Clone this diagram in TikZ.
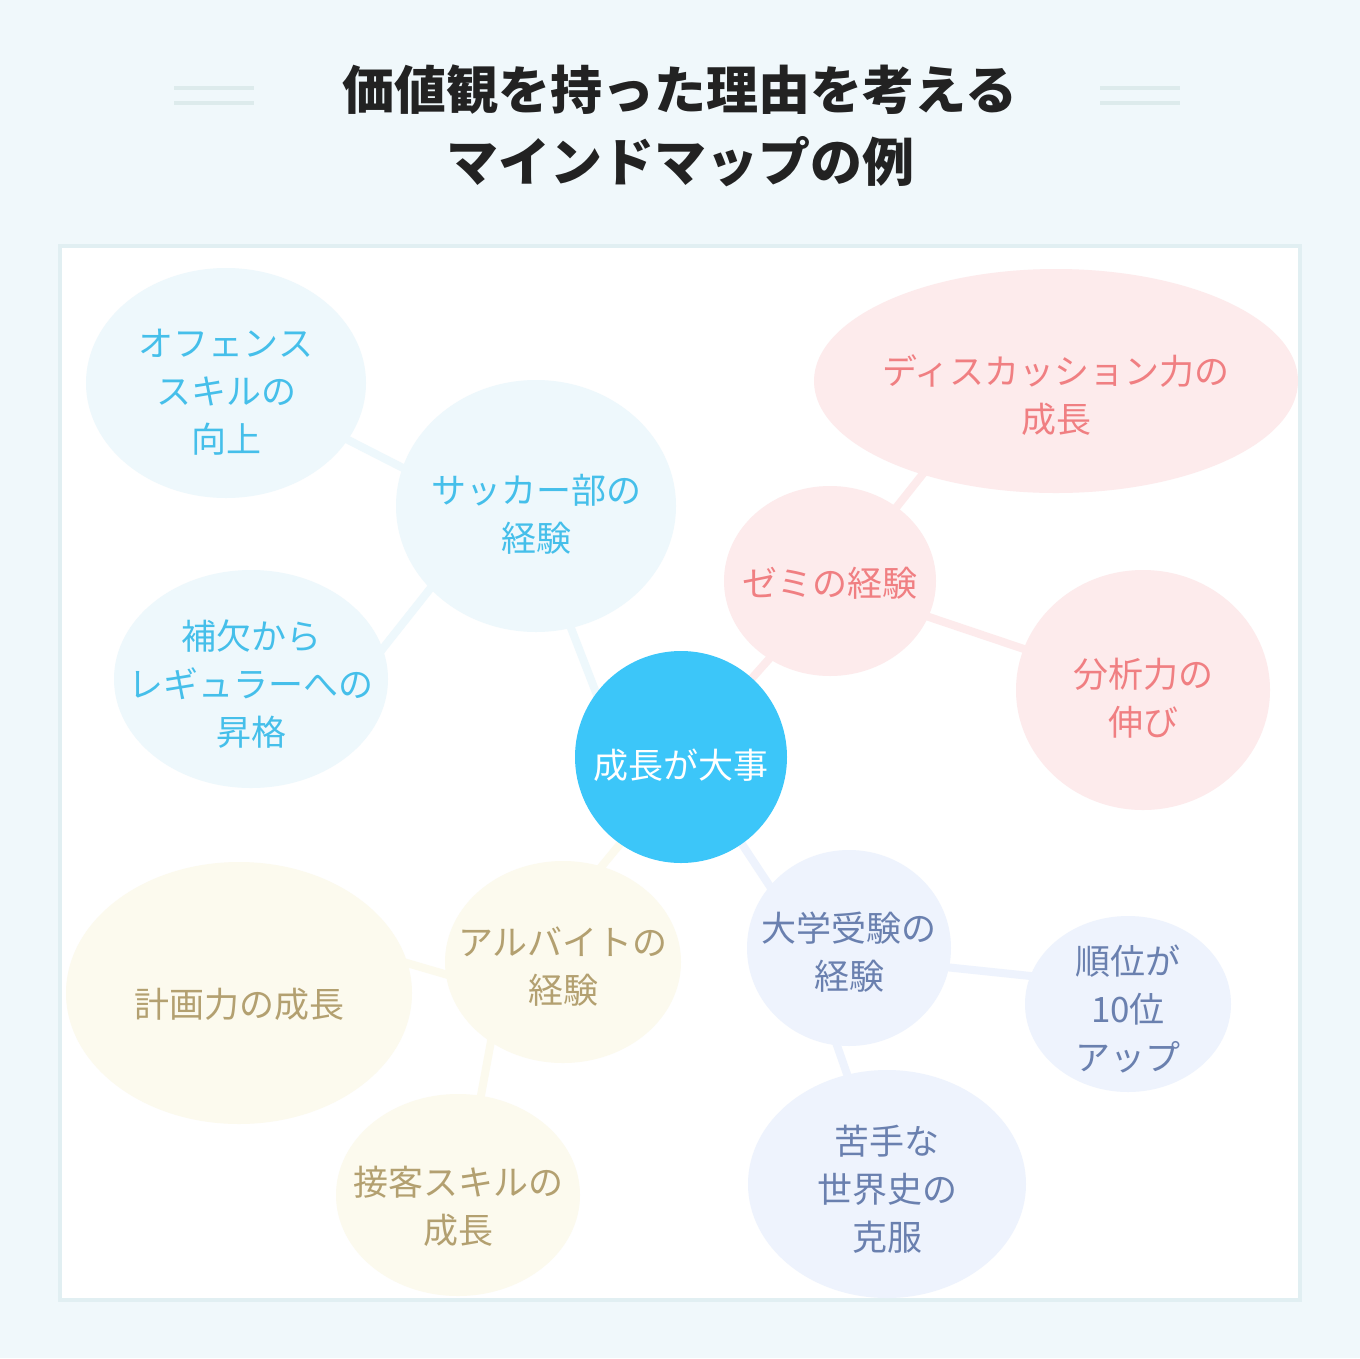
\documentclass[tikz,border=0pt]{standalone}
\usepackage{fontspec}
\setmainfont{Noto Sans CJK JP}
\usetikzlibrary{shapes.geometric}
\definecolor{pagebg}{HTML}{F0F8FB}
\definecolor{framecol}{HTML}{E1EFF2}
\definecolor{decocol}{HTML}{DDEBEC}
\definecolor{titlecol}{HTML}{222222}
\definecolor{hubcol}{HTML}{3CC6F9}
\definecolor{bluefill}{HTML}{EEF8FC}
\definecolor{bluetext}{HTML}{45BFEA}
\definecolor{pinkfill}{HTML}{FDEBEC}
\definecolor{pinktext}{HTML}{F07F82}
\definecolor{navyfill}{HTML}{EEF3FD}
\definecolor{navytext}{HTML}{6A80AF}
\definecolor{sandfill}{HTML}{FCFAEE}
\definecolor{sandtext}{HTML}{B3A070}
\pgfdeclarelayer{back}
\pgfdeclarelayer{links}
\pgfsetlayers{back,links,main}
\begin{document}
\begin{tikzpicture}[x=1pt,y=-1pt,
    bubble/.style={ellipse, inner sep=-200pt, align=center, font=\fontsize{35}{48}\selectfont},
    oneline/.style={text height=43pt, text depth=0pt},
    twolines/.style={text height=91pt, text depth=0pt},
    threelines/.style={text height=139pt, text depth=0pt},
    link/.style={line width=8pt, shorten <=-12pt, shorten >=-12pt},
    blue/.style={bubble, fill=bluefill, text=bluetext},
    pink/.style={bubble, fill=pinkfill, text=pinktext},
    navy/.style={bubble, fill=navyfill, text=navytext},
    sand/.style={bubble, fill=sandfill, text=sandtext}]
    \useasboundingbox (0,0) rectangle (1360,1358);
    \begin{pgfonlayer}{back}
    \fill [pagebg] (0,0) rectangle (1360,1358);% page
    \draw [framecol, line width=4pt, fill=white] (60,246) rectangle (1300,1300);% frame
    \end{pgfonlayer}

    \draw [decocol, line width=4pt] (174,88) -- (254,88) (174,103) -- (254,103);% left bars
    \draw [decocol, line width=4pt] (1100,88) -- (1180,88) (1100,103) -- (1180,103);% right bars
    \node (title) [align=center, text=titlecol, font=\fontsize{52}{72}\selectfont\bfseries]
        at (680,126) {価値観を持った理由を考える\\マインドマップの例};

    \node (hub) [circle, inner sep=0pt, minimum size=212pt, fill=hubcol, text=white, oneline,
        font=\fontsize{35}{48}\selectfont] at (681,757) {成長が大事};

    \node (soccer)   [blue, twolines, minimum width=280pt, minimum height=252pt] at (536,506) {サッカー部の\\経験};
    \node (offense)  [blue, threelines, minimum width=280pt, minimum height=230pt] at (226,383) {オフェンス\\スキルの\\向上};
    \node (regular)  [blue, threelines, text height=133pt, minimum width=274pt, minimum height=218pt] at (251,679) {補欠から\\レギュラーへの\\昇格};

    \node (seminar)  [pink, oneline, text height=31pt, minimum width=212pt, minimum height=190pt] at (830,581) {ゼミの経験};
    \node (discuss)  [pink, twolines, text height=103pt, minimum width=484pt, minimum height=224pt] at (1056,381) {ディスカッション力の\\成長};
    \node (analysis) [pink, twolines, minimum width=254pt, minimum height=240pt] at (1143,690) {分析力の\\伸び};

    \node (exam)     [navy, twolines, text height=83pt, minimum width=204pt, minimum height=196pt] at (849,948) {大学受験の\\経験};
    \node (rank)     [navy, threelines, text height=133pt, minimum width=206pt, minimum height=176pt] at (1128,1004) {順位が\\10位\\アップ};
    \node (history)  [navy, threelines, text height=133pt, minimum width=278pt, minimum height=228pt] at (887,1184) {苦手な\\世界史の\\克服};

    \node (parttime) [sand, twolines, text height=83pt, minimum width=236pt, minimum height=202pt] at (563,962) {アルバイトの\\経験};
    \node (planning) [sand, oneline, text height=49pt, minimum width=346pt, minimum height=262pt] at (239,993) {計画力の成長};
    \node (service)  [sand, twolines, text height=97pt, minimum width=244pt, minimum height=202pt] at (458,1195) {接客スキルの\\成長};

    \begin{pgfonlayer}{links}
    \foreach \from/\to/\col in {hub.143/soccer.286/bluefill, soccer.164/offense.335/bluefill, soccer.218/regular.13/bluefill,
        hub.48/seminar.232/pinkfill, seminar.48/discuss.215/pinkfill, seminar.340/analysis.161/pinkfill,
        hub.305/exam.142/navyfill, exam.349/rank.164/navyfill, exam.263/history.110/navyfill,
        hub.235/parttime.68/sandfill, parttime.186/planning.10/sandfill, parttime.228/service.77/sandfill}
      \draw [link, \col] (\from) -- (\to);
    \end{pgfonlayer}
  \end{tikzpicture}
\end{document}
